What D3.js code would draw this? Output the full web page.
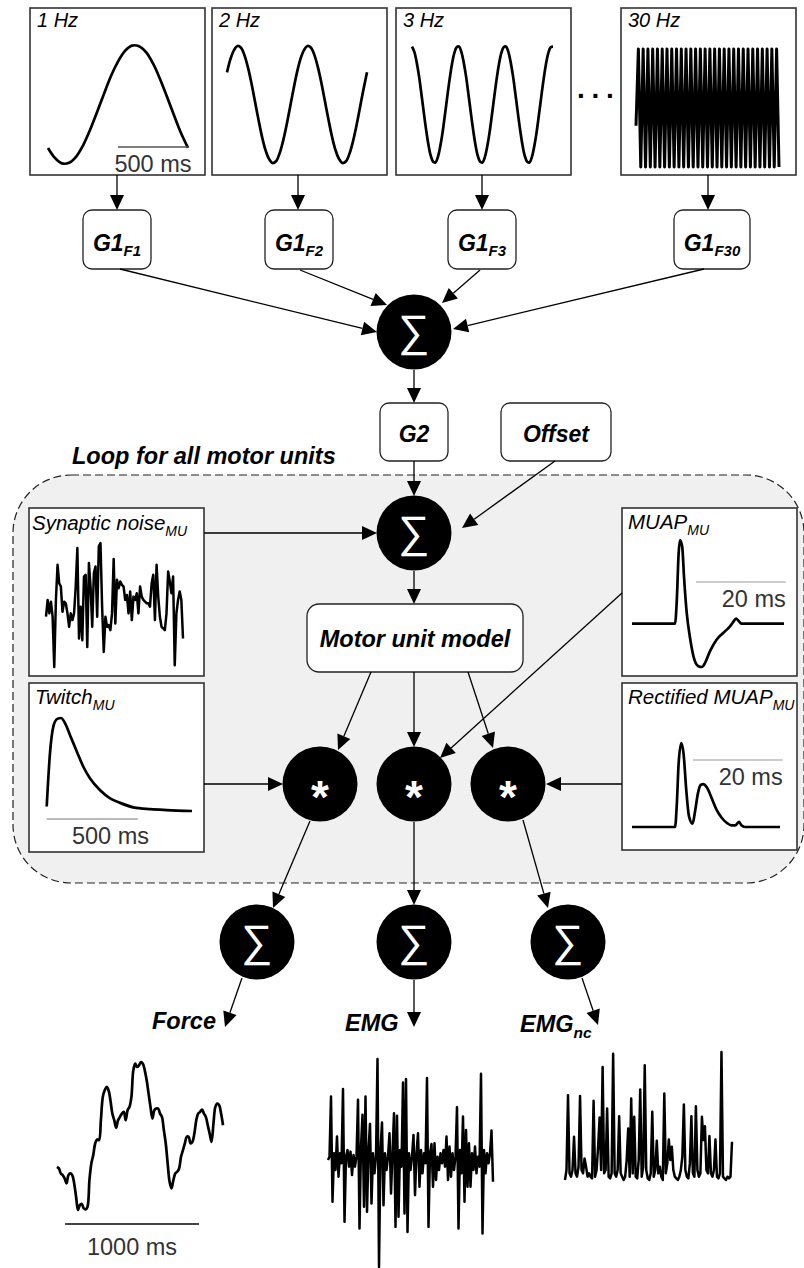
<!DOCTYPE html>
<html>
<head>
<meta charset="utf-8">
<script src="https://cdn.jsdelivr.net/npm/d3@7"></script>
<style>
  body { margin: 0; background: #fff; }
  svg { display: block; font-family: 'Liberation Sans', Arial, sans-serif; }
</style>
</head>
<body>
<svg id="canvas" width="804" height="1268"></svg>
<script>
// Define and Initialise Variables
let freqLabels = ['1 Hz', '2 Hz', '3 Hz', '30 Hz'];
let gainSubs = ['F1', 'F2', 'F3', 'F30'];

// one second of each sine component, sampled evenly
let sine1Hz = [-0.73,-0.90,-0.99,-0.98,-0.88,-0.69,-0.43,-0.13,0.18,0.48,0.72,0.90,0.99,0.98,0.88,0.69,0.43,0.13,-0.18,-0.48,-0.73];
let sine2Hz = [0.55,0.78,0.93,1.00,0.97,0.84,0.63,0.36,0.05,-0.26,-0.55,-0.78,-0.93,-1.00,-0.97,-0.84,-0.63,-0.36,-0.05,0.26,
               0.55,0.78,0.93,1.00,0.97,0.84,0.63,0.36,0.05,-0.26,-0.55,-0.78,-0.93,-1.00,-0.97,-0.84,-0.63,-0.36,-0.05,0.26,0.55];
let sine3Hz = [0.99,0.90,0.72,0.48,0.18,-0.13,-0.43,-0.69,-0.88,-0.98,-0.99,-0.90,-0.72,-0.48,-0.18,0.13,0.43,0.69,0.88,0.98,
               0.99,0.90,0.72,0.48,0.18,-0.13,-0.43,-0.69,-0.88,-0.98,-0.99,-0.90,-0.72,-0.48,-0.18,0.13,0.43,0.69,0.88,0.98,
               0.99,0.90,0.72,0.48,0.18,-0.13,-0.43,-0.69,-0.88,-0.98,-0.99,-0.90,-0.72,-0.48,-0.18,0.13,0.43,0.69,0.88,0.98,0.99];
let sine30Hz = [-0.3,1,-1,1,-1,1,-1,1,-1,1,-1,1,-1,1,-1,1,-1,1,-1,1,-1,1,-1,1,-1,1,-1,1,-1,1,-1,
                1,-1,1,-1,1,-1,1,-1,1,-1,1,-1,1,-1,1,-1,1,-1,1,-1,1,-1,1,-1,1,-1,1,-1,1,-1];

// synaptic noise of one motor unit
let noiseValues = [0.00,0.50,0.10,0.45,0.00,-1.50,0.50,1.55,1.00,0.90,0.15,0.45,0.40,0.10,-0.30,0.10,-0.10,0.10,0.90,2.05,
  -0.65,0.30,-0.70,1.20,1.25,-0.90,1.60,0.90,-0.30,1.30,1.50,0.00,2.10,2.20,0.30,-1.05,0.00,-0.30,-0.25,-0.40,
  0.10,1.72,-0.20,1.10,0.85,1.05,0.95,0.90,0.50,0.65,0.10,0.75,-0.10,0.60,0.50,0.70,0.10,0.90,0.60,0.50,
  0.45,0.40,0.40,0.30,1.00,1.25,-0.10,1.55,0.60,0.00,-0.30,-0.35,-0.40,0.10,1.35,1.05,0.70,1.20,-1.45,0.10,
  0.50,0.75,0.50,-0.65];

// twitch (ms, normalised force)
let twitchTime = [0,18,37,58,79,101,128,165,201,238,293,348,403,476,568,659,797];
let twitchValues = [0.02,0.61,0.91,0.99,1.00,0.94,0.81,0.63,0.46,0.33,0.20,0.11,0.06,0.01,-0.01,-0.02,-0.03];

// MUAP (ms, normalised)
let muapTime = [0,9.6,10.0,10.4,10.7,11.2,11.6,12.2,13.0,13.9,14.8,15.6,16.3,17.4,18.9,20.4,21.9,22.6,23.2,23.8,24.4,27.0,33.9];
let muapValues = [0,0,0.29,0.84,1.0,0.92,0.56,0.13,-0.19,-0.43,-0.51,-0.52,-0.47,-0.33,-0.19,-0.11,-0.03,0.02,0.06,0.03,0,0,0];

// rectified MUAP (ms, normalised)
let rectTime = [0,9.6,10.0,10.4,11.0,11.5,12.1,12.7,13.5,14.1,14.7,15.3,15.9,16.7,17.8,18.9,20.0,21.1,22.2,23.0,23.9,24.4,25.2,33.0];
let rectValues = [0,0,0.28,0.76,1.0,0.87,0.44,0.13,0.04,0.20,0.40,0.50,0.51,0.47,0.34,0.20,0.11,0.05,0.02,0.02,0.06,0.02,0,0];

// outputs
let forceValues = [1.40,1.35,1.20,1.15,1.05,0.90,1.15,1.20,1.15,0.90,
  0.50,0.10,0.25,0.28,0.15,0.12,0.20,1.00,1.50,1.75,
  2.10,2.22,2.20,2.80,3.50,3.70,3.80,3.70,3.40,3.00,
  2.80,2.57,2.80,2.90,3.00,3.05,2.80,3.10,3.20,3.50,
  4.30,4.50,4.40,4.45,4.55,4.50,4.30,4.00,3.60,3.20,
  2.85,3.10,3.15,3.15,3.00,2.90,2.50,2.10,1.50,0.95,
  0.75,1.00,1.20,1.25,1.35,1.70,1.90,2.10,2.30,2.30,
  2.10,2.15,2.40,2.80,3.00,3.05,3.12,3.00,2.90,2.65,
  2.40,2.15,2.70,3.20,3.30,3.25,3.00,2.65];

let emgValues = [0.0,0.1,1.90,-1.25,0.2,-0.3,0.70,-0.50,0.2,-0.1,
  2.12,-1.85,0.1,0.30,-0.20,0.25,-0.45,0.15,-0.2,0.1,
  1.80,-2.05,0.4,1.35,-1.40,1.90,-1.55,0.3,1.08,-1.30,
  0.2,-0.4,0.1,3.02,-3.20,0.3,1.12,-1.35,0.2,-0.3,
  0.1,0.80,-1.00,0.2,1.40,-2.00,1.32,-1.70,0.3,-0.2,
  2.32,-1.60,2.42,-2.15,0.2,-0.3,0.1,0.75,-1.05,0.2,
  0.80,-0.80,0.3,-0.4,0.2,-0.1,2.45,-2.00,0.2,0.48,
  -0.80,0.50,-0.60,0.1,-0.3,0.2,-0.1,0.3,-0.2,0.70,
  -0.60,0.4,-0.5,0.2,-0.3,0.1,1.58,-2.05,0.3,-0.4,
  1.30,-1.25,0.90,-0.80,0.50,-0.80,0.2,-0.3,0.40,-0.40,
  0.1,-0.2,2.58,-2.20,0.3,-0.4,0.2,-0.1,0.2,0.88,-0.65];

let emgNcValues = [0.0,0.3,2.55,0.2,0.1,0.3,1.30,0.2,0.1,0.4,
  2.53,0.3,0.2,0.65,0.4,0.1,0.2,0.1,0.05,2.38,
  0.1,0.3,1.0,1.88,0.3,3.40,0.2,0.3,2.15,0.1,
  0.05,0.2,3.80,0.2,0.1,0.3,1.92,0.2,0.1,0.0,
  0.1,0.6,1.55,0.1,2.45,0.2,1.90,0.1,0.05,0.6,
  2.72,0.1,0.4,3.45,0.3,0.05,0.0,0.2,2.05,0.1,
  0.3,1.18,0.2,0.4,0.1,0.0,2.60,0.2,0.5,1.22,
  0.6,1.00,0.3,0.1,0.05,0.0,0.1,0.3,0.7,2.27,
  0.3,0.1,0.05,0.5,1.92,0.2,0.1,2.22,0.3,0.1,
  0.2,1.90,1.2,1.62,0.3,0.2,1.32,0.2,0.1,0.3,
  1.22,0.1,0.05,0.2,3.85,0.1,0.05,0.0,0.1,0.05,0.1,1.15];

let canvas = d3.select('#canvas');
let INK = '#000';

// Helpers
let arrow = (x1, y1, x2, y2) => {
    let len = Math.hypot(x2 - x1, y2 - y1);
    let ux = (x2 - x1) / len, uy = (y2 - y1) / len;
    let hl = 15, hw = 7;
    let bx = x2 - ux * hl, by = y2 - uy * hl;
    canvas.append('line')
        .attr('x1', x1).attr('y1', y1).attr('x2', bx).attr('y2', by)
        .attr('stroke', INK).attr('stroke-width', 1.3);
    canvas.append('path')
        .attr('d', 'M' + x2 + ',' + y2 + 'L' + (bx - uy * hw) + ',' + (by + ux * hw) +
            'L' + (bx + uy * hw) + ',' + (by - ux * hw) + 'Z')
        .attr('fill', INK);
};

let panel = (x, y, w, h) => {
    canvas.append('rect')
        .attr('x', x).attr('y', y).attr('width', w).attr('height', h)
        .attr('fill', '#fff').attr('stroke', '#333').attr('stroke-width', 1.6);
};

let box = (x, y, w, h, r) => {
    canvas.append('rect')
        .attr('x', x).attr('y', y).attr('width', w).attr('height', h)
        .attr('rx', r).attr('ry', r)
        .attr('fill', '#fff').attr('stroke', '#222').attr('stroke-width', 1.3);
};

// text with an optional subscript
let label = (x, y, main, sub, o) => {
    let t = canvas.append('text')
        .attr('x', x).attr('y', y)
        .attr('font-size', o.size)
        .attr('font-style', 'italic')
        .attr('font-weight', o.bold ? 'bold' : 'normal')
        .attr('text-anchor', o.anchor || 'start')
        .attr('fill', INK);
    t.append('tspan').text(main);
    if (sub) {
        t.append('tspan').attr('dy', o.subDy).attr('font-size', o.subSize).text(sub);
    }
};

let circle = (cx, cy, symbol) => {
    canvas.append('circle').attr('cx', cx).attr('cy', cy).attr('r', 37.5).attr('fill', INK);
    if (symbol === 'sum') {
        canvas.append('text')
            .attr('x', cx).attr('y', cy + 14)
            .attr('text-anchor', 'middle')
            .attr('font-size', 44)
            .attr('fill', '#fff')
            .text('\u2211');
    } else {
        canvas.append('text')
            .attr('x', cx).attr('y', cy + 29)
            .attr('text-anchor', 'middle')
            .attr('font-size', 46)
            .attr('font-weight', 'bold')
            .attr('fill', '#fff')
            .text('*');
    }
};

// evenly sampled signal
let drawSeries = (values, xRange, yDomain, yRange, curve, width) => {
    let x = d3.scaleLinear().domain([0, values.length - 1]).range(xRange);
    let y = d3.scaleLinear().domain(yDomain).range(yRange);
    canvas.append('path')
        .datum(values)
        .attr('d', d3.line().x((d, i) => x(i)).y((d) => y(d)).curve(curve))
        .attr('fill', 'none')
        .attr('stroke', INK)
        .attr('stroke-width', width)
        .attr('stroke-linejoin', 'round');
};

// signal with its own time axis
let drawTimed = (times, values, x, y) => {
    canvas.append('path')
        .datum(times.map((t, i) => [t, values[i]]))
        .attr('d', d3.line().x((d) => x(d[0])).y((d) => y(d[1])).curve(d3.curveMonotoneX))
        .attr('fill', 'none')
        .attr('stroke', INK)
        .attr('stroke-width', 2.7)
        .attr('stroke-linejoin', 'round');
};

let scaleBar = (x1, x2, y, color, width) => {
    canvas.append('line')
        .attr('x1', x1).attr('x2', x2).attr('y1', y).attr('y2', y)
        .attr('stroke', color).attr('stroke-width', width);
};

let barText = (x, y, txt, anchor) => {
    canvas.append('text')
        .attr('x', x).attr('y', y)
        .attr('text-anchor', anchor)
        .attr('font-size', 23.5)
        .attr('fill', '#333')
        .text(txt);
};

// Loop region
canvas.append('rect')
    .attr('x', 13).attr('y', 475).attr('width', 791).attr('height', 408)
    .attr('rx', 58).attr('ry', 58)
    .attr('fill', '#f0f0f0')
    .attr('stroke', '#222').attr('stroke-width', 1.2)
    .attr('stroke-dasharray', '8,4');

label(72, 464, 'Loop for all motor units', null, { size: 23.5, bold: true });

// Draw Sine Components
let topPanels = [
    { x: 30, xr: [48, 188], yr: [164, 45], data: sine1Hz },
    { x: 212, xr: [227, 367], yr: [163, 46], data: sine2Hz },
    { x: 396, xr: [412, 553], yr: [163, 46], data: sine3Hz },
    { x: 621, xr: [636, 779], yr: [167, 49], data: sine30Hz }
];
let g1Boxes = [
    { x: 83, w: 68 }, { x: 265, w: 68 }, { x: 448, w: 68 }, { x: 674, w: 76 }
];

topPanels.forEach((p, i) => {
    panel(p.x, 8, 175, 167);
    label(p.x + 7, 27, freqLabels[i], null, { size: 20 });
    drawSeries(p.data, p.xr, [-1, 1], p.yr,
        i === 3 ? d3.curveLinear : d3.curveCatmullRom, i === 3 ? 3 : 2.7);
    let b = g1Boxes[i];
    box(b.x, 210, b.w, 59, 9);
    label(b.x + b.w / 2, 251, 'G1', gainSubs[i], { size: 23, bold: true, anchor: 'middle', subDy: 5, subSize: 15 });
});

// 500 ms bar in the 1 Hz panel
let x1Hz = d3.scaleLinear().domain([0, 1000]).range([48, 188]);
scaleBar(x1Hz(500), x1Hz(1000), 147, '#555', 1.3);
barText(x1Hz(750), 172, '500 ms', 'middle');

// ellipsis between 3 Hz and 30 Hz
canvas.append('text')
    .attr('x', 577).attr('y', 98)
    .attr('font-size', 28).attr('font-weight', 'bold')
    .attr('letter-spacing', 6.7)
    .text('...');

// Gain boxes and sums
circle(414, 332, 'sum');
box(380, 403, 68, 58, 9);
label(414, 442, 'G2', null, { size: 23, bold: true, anchor: 'middle' });
box(501, 403, 110, 58, 9);
label(556, 442, 'Offset', null, { size: 23, bold: true, anchor: 'middle' });
circle(414, 533, 'sum');
box(307, 604, 216, 68, 12);
label(415, 647, 'Motor unit model', null, { size: 23.5, bold: true, anchor: 'middle' });

// Synaptic noise panel
panel(29, 508, 175, 168);
label(32, 530, 'Synaptic noise', 'MU', { size: 20.5, subDy: 6, subSize: 14 });
drawSeries(noiseValues, [46, 183], [-1.5, 2.2], [667, 543], d3.curveLinear, 2.5);

// Twitch panel
panel(29, 683, 175, 169);
label(35, 704, 'Twitch', 'MU', { size: 20.5, subDy: 6, subSize: 14 });
let xTwitch = d3.scaleLinear().domain([0, 797]).range([46.7, 192]);
let yTwitch = d3.scaleLinear().domain([-0.03, 1]).range([811, 718]);
drawTimed(twitchTime, twitchValues, xTwitch, yTwitch);
scaleBar(xTwitch(0), xTwitch(500), 819, '#777', 1.2);
barText(xTwitch(350), 844, '500 ms', 'middle');

// MUAP panel
panel(622, 508, 175, 168);
label(628, 529, 'MUAP', 'MU', { size: 20.5, subDy: 6, subSize: 14 });
let xMuap = d3.scaleLinear().domain([0, 33.9]).range([632, 784]);
let yMuap = d3.scaleLinear().domain([-0.52, 1]).range([667, 540]);
drawTimed(muapTime, muapValues, xMuap, yMuap);
scaleBar(xMuap(14.3), xMuap(34.3), 582, '#999', 1.2);
barText(xMuap(34.3), 607, '20 ms', 'end');

// Rectified MUAP panel
panel(622, 683, 175, 167);
label(628, 704, 'Rectified MUAP', 'MU', { size: 20.5, subDy: 6, subSize: 14 });
let xRect = d3.scaleLinear().domain([0, 33]).range([632, 780]);
let yRect = d3.scaleLinear().domain([0, 1]).range([827, 743]);
drawTimed(rectTime, rectValues, xRect, yRect);
scaleBar(xRect(13.6), xRect(33.6), 760, '#999', 1.2);
barText(xRect(33.6), 785, '20 ms', 'end');

// Convolutions and output sums
circle(320, 784, 'mul');
circle(414, 784, 'mul');
circle(508, 784, 'mul');
circle(257, 942, 'sum');
circle(414, 942, 'sum');
circle(568, 942, 'sum');

label(216, 1029, 'Force', null, { size: 23.5, bold: true, anchor: 'end' });
label(345, 1031, 'EMG', null, { size: 23.5, bold: true });
label(520, 1032, 'EMG', 'nc', { size: 23.5, bold: true, subDy: 6, subSize: 15.5 });

// Arrows
let arrows = [
    [117, 175, 117, 210], [298, 175, 298, 210], [482, 175, 482, 210], [708, 175, 708, 210],
    [120, 269, 377, 332], [300, 270, 387, 305], [480, 270, 442, 303], [704, 269, 453, 329],
    [414, 370, 414, 403], [414, 461, 414, 496], [555, 461, 462, 528],
    [204, 533, 377, 533], [414, 571, 414, 604],
    [371, 672, 338, 750], [414, 672, 414, 747], [468, 672, 493, 748], [622, 593, 440, 758],
    [204, 784, 283, 784], [622, 784, 546, 784],
    [310, 821, 273, 908], [414, 822, 414, 905], [523, 820, 548, 908],
    [242, 978, 225, 1027], [414, 980, 414, 1027], [582, 978, 598, 1025]
];
arrows.forEach((a) => arrow(a[0], a[1], a[2], a[3]));

// Force trace
let xForce = d3.scaleLinear().domain([0, 1239]).range([57, 223]);
drawSeries(forceValues, [57, 223], [0.10, 4.55], [1210, 1062], d3.curveCatmullRom, 2.7);
scaleBar(xForce(60), xForce(1060), 1224, '#444', 2);
barText(xForce(560), 1255, '1000 ms', 'middle');

// EMG traces
drawSeries(emgValues, [328, 493], [-3.2, 3.02], [1267, 1059], d3.curveLinear, 2.5);
drawSeries(emgNcValues, [565, 732], [0, 3.85], [1180, 1052], d3.curveLinear, 2.5);
</script>
</body>
</html>
